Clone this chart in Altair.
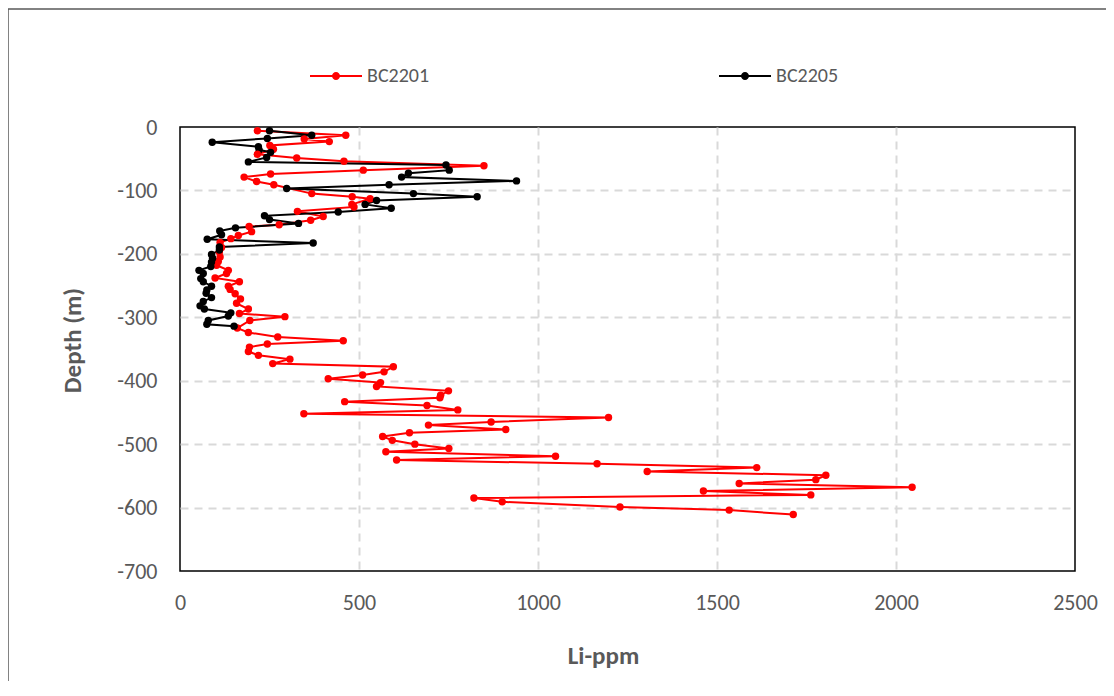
import altair as alt
import pandas as pd

# BC2201 (red) depth (m) and Li (ppm), in drilling order
red_depth = [-6, -13, -19, -23, -29, -35, -43, -49, -54, -61, -68, -74, -79, -86, -91,
             -105, -110, -113, -122, -126, -133, -141, -147, -154, -157, -165, -171, -176,
             -182, -190, -197, -205, -212, -218, -226, -231, -238, -244, -251, -256, -263,
             -271, -278, -287, -294, -299, -305, -317, -324, -331, -337, -342, -347, -354,
             -360, -366, -373, -378, -386, -391, -397, -403, -409, -416, -423, -427, -433,
             -439, -446, -452, -458, -465, -470, -477, -482, -488, -494, -500, -507, -512,
             -519, -525, -531, -537, -543, -549, -556, -562, -568, -574, -580, -585, -591,
             -599, -604, -611]
red_li = [216, 463, 347, 417, 251, 261, 216, 326, 458, 849, 512, 253, 179, 214, 262,
          368, 481, 531, 480, 486, 328, 400, 365, 277, 193, 200, 163, 142,
          112, 116, 110, 112, 107, 102, 135, 130, 98, 166, 135, 140, 154,
          169, 158, 191, 166, 293, 195, 160, 191, 273, 456, 244, 194, 191,
          219, 307, 259, 596, 570, 510, 414, 560, 549, 750, 728, 726, 460,
          690, 776, 346, 1197, 869, 694, 910, 641, 566, 593, 656, 751, 575,
          1049, 605, 1165, 1611, 1305, 1804, 1776, 1562, 2045, 1462, 1762, 821, 900,
          1229, 1534, 1713]

# BC2205 (black)
black_depth = [-6, -13, -18, -24, -31, -36, -40, -48, -55, -60, -68, -73, -79, -85, -91,
               -97, -105, -110, -116, -122, -128, -134, -140, -146, -152, -159, -164, -170,
               -177, -183, -189, -194, -201, -207, -213, -220, -226, -231, -239, -244, -251,
               -257, -262, -269, -275, -282, -287, -293, -298, -305, -311, -314]
black_li = [250, 368, 244, 90, 219, 221, 253, 242, 191, 743, 752, 638, 619, 940, 584,
            298, 652, 830, 549, 517, 590, 442, 236, 250, 331, 155, 111, 116,
            76, 372, 110, 110, 88, 91, 88, 86, 53, 65, 58, 65, 88,
            75, 73, 88, 65, 56, 68, 142, 135, 79, 75, 151]

series_names = ["BC2201", "BC2205"]
series_colors = ["#FF0000", "#000000"]
x_ticks = [0, 500, 1000, 1500, 2000, 2500]
y_ticks = [0, -100, -200, -300, -400, -500, -600, -700]

rows = []
for i, (d, v) in enumerate(zip(red_depth, red_li)):
    rows.append({"series": series_names[0], "depth": d, "li": v, "i": i})
for i, (d, v) in enumerate(zip(black_depth, black_li)):
    rows.append({"series": series_names[1], "depth": d, "li": v, "i": i})
df = pd.DataFrame(rows)

FONT = "Carlito, Calibri, 'Open Sans', sans-serif"
GRAY = "#595959"

x = alt.X("li:Q", scale=alt.Scale(domain=[0, 2500], nice=False, zero=False),
          axis=alt.Axis(values=x_ticks, title="Li-ppm", labelExpr="'' + datum.value",
                        labelFlush=False,
                        domain=False, ticks=False, tickSize=0, labelPadding=21,
                        labelFont=FONT, labelFontSize=22, labelColor=GRAY,
                        titleFont=FONT, titleFontSize=25, titleFontWeight="bold",
                        titleColor=GRAY, titleX=423, titleY=84, titleBaseline="middle",
                        gridColor="#d9d9d9", gridWidth=2, gridDash=[8, 6],
                        gridOpacity=alt.condition("datum.value == 0 || datum.value == 2500",
                                                  alt.value(0), alt.value(1))))
y = alt.Y("depth:Q", scale=alt.Scale(domain=[-700, 0], nice=False, zero=False),
          axis=alt.Axis(values=y_ticks, title="Depth (m)", labelExpr="'' + datum.value",
                        labelFlush=False,
                        domain=False, ticks=False, tickSize=0, labelPadding=23,
                        labelFont=FONT, labelFontSize=22, labelColor=GRAY,
                        titleFont=FONT, titleFontSize=25, titleFontWeight="bold",
                        titleColor=GRAY, titleX=-108, titleY=213, titleBaseline="middle",
                        titleAngle=270, titleAlign="center",
                        gridColor="#d9d9d9", gridWidth=2, gridDash=[8, 6],
                        gridOpacity=alt.condition("datum.value == 0 || datum.value == -700",
                                                  alt.value(0), alt.value(1))))

sym = ("M-1,0L1,0"
       "M-0.115,0a0.115,0.115 0 1,0 0.23,0a0.115,0.115 0 1,0 -0.23,0"
       "M-0.07,0a0.07,0.07 0 1,0 0.14,0a0.07,0.07 0 1,0 -0.14,0"
       "M-0.03,0a0.03,0.03 0 1,0 0.06,0a0.03,0.03 0 1,0 -0.06,0")

color_scale = alt.Scale(domain=series_names, range=series_colors)
legend = alt.Legend(title=None, orient="none", direction="horizontal", columns=2,
                    legendX=129, legendY=-78, padding=0, columnPadding=285,
                    symbolType=sym, symbolSize=2704, symbolStrokeWidth=2,
                    labelFont=FONT, labelFontSize=20, labelColor=GRAY, labelOffset=4)

base = alt.Chart(df).encode(x=x, y=y, order=alt.Order("i:Q"))
lines = base.mark_line(strokeWidth=2).encode(
    color=alt.Color("series:N", scale=color_scale, legend=legend))
points = base.mark_circle(size=55, opacity=1).encode(
    color=alt.Color("series:N", scale=color_scale, legend=None))

frame = alt.Chart(pd.DataFrame({"a": [0]})).mark_rect(
    fill="transparent", stroke="#595959", strokeWidth=1.5).encode(
    x=alt.value(-172), x2=alt.value(1000), y=alt.value(-118), y2=alt.value(700))

chart = alt.layer(frame, lines, points).properties(
    width=895, height=444,
    padding={"left": 172, "top": 119, "right": 31, "bottom": 110},
    autosize=alt.AutoSizeParams(type="none"),
).configure_view(stroke="black", strokeWidth=1.5)

chart.save("out.html", embed_options={"renderer": "svg", "actions": False})
